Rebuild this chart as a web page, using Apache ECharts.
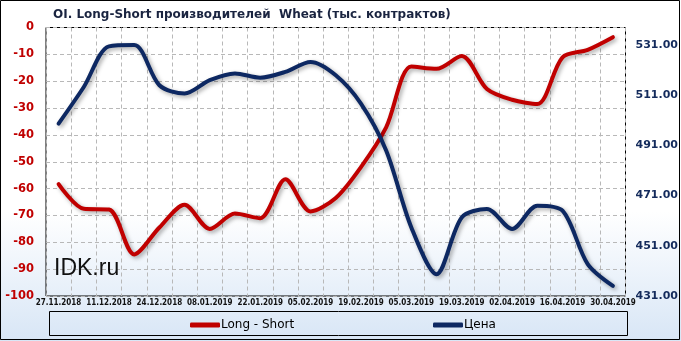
<!DOCTYPE html>
<html>
<head>
<meta charset="utf-8">
<script src="https://cdn.jsdelivr.net/npm/echarts@6/dist/echarts.min.js"></script>
<style>html,body{margin:0;padding:0;background:#fff}#c{width:681px;height:341px}</style>
</head>
<body>
<div id="c"></div>
<script>
var categories = ['27.11.2018','04.12.2018','11.12.2018','18.12.2018','24.12.2018','31.12.2018','08.01.2019','15.01.2019','22.01.2019','29.01.2019','05.02.2019','12.02.2019','19.02.2019','26.02.2019','05.03.2019','12.03.2019','19.03.2019','26.03.2019','02.04.2019','09.04.2019','16.04.2019','23.04.2019','30.04.2019'];
var longShort = [-58.3,-67.5,-67.8,-84.5,-74.5,-66,-75,-69.3,-71,-56.5,-68.5,-63.5,-52,-37.2,-14.5,-15.4,-10.6,-22.9,-26.9,-28.5,-11.1,-8.3,-3.6];
var price = [499.7,514.3,530.5,531,515,511.7,517,519.7,518,520.3,524.3,519,507.7,489,458.3,439.7,462.3,465.7,457.7,467,465,443.7,435];
var leftTicks = {min:-100, max:0, interval:10};
var rightTicks = {min:431, max:538, interval:20};

var chart = echarts.init(document.getElementById('c'));
var shadow = {shadowColor:'rgba(0,0,0,0.35)', shadowBlur:4, shadowOffsetX:2, shadowOffsetY:2};
chart.setOption({
  animation:false,
  title:{text:'OI. Long-Short производителей  Wheat (тыс. контрактов)', left:48, top:4,
    textStyle:{fontFamily:'DejaVu Sans', fontWeight:'bold', fontSize:12, color:'#1a2440'}},
  graphic:[
    {type:'rect', z:-10, silent:true, shape:{x:0,y:0,width:681,height:341},
      style:{fill:{type:'linear',x:0,y:0,x2:0,y2:1,colorStops:[{offset:0,color:'#ffffff'},{offset:0.62,color:'#ffffff'},{offset:1,color:'#d8e6f6'}]}}},
    {type:'rect', z:100, silent:true, shape:{x:0.5,y:0.5,width:679,height:339}, style:{fill:null, stroke:'#000', lineWidth:1}},
    {type:'rect', z:-5, silent:true, shape:{x:49.5,y:311.5,width:578,height:24}, style:{fill:null, stroke:'#000', lineWidth:1}},
    {type:'text', z:50, left:54, top:257, style:{text:'IDK.ru', fill:'#111', font:'23px "Liberation Sans", Arial'}}
  ],
  legend:[
    {data:['Long - Short'], left:185, top:314, itemWidth:30, itemHeight:5, icon:'roundRect', itemGap:0,
      textStyle:{fontFamily:'DejaVu Sans', fontSize:12, color:'#000', padding:[0,0,0,-4]}},
    {data:['Цена'], left:428, top:314, itemWidth:30, itemHeight:5, icon:'roundRect', itemGap:0,
      textStyle:{fontFamily:'DejaVu Sans', fontSize:12, color:'#000', padding:[0,0,0,-4]}}
  ],
  grid:{left:46, right:55.5, top:27.5, bottom:45, show:true, borderColor:'#000', borderWidth:1, backgroundColor:'transparent'},
  xAxis:{type:'category', data:categories, boundaryGap:true,
    axisLine:{show:false}, axisTick:{show:false},
    axisLabel:{interval:1, margin:3, fontFamily:'DejaVu Sans Condensed', fontWeight:'bold', fontSize:8, color:'#111'},
    splitLine:{show:true, interval:0, lineStyle:{color:'#b8b8b8', type:[4,3], width:1}}},
  yAxis:[
    {type:'value', min:leftTicks.min, max:leftTicks.max, interval:leftTicks.interval, position:'left',
      axisLine:{show:false}, axisTick:{show:false},
      axisLabel:{margin:12, fontFamily:'DejaVu Sans', fontWeight:'bold', fontSize:11.5, color:'#c00000'},
      splitLine:{show:true, lineStyle:{color:'#b8b8b8', type:[4,3], width:1}}},
    {type:'value', min:rightTicks.min, max:rightTicks.max, interval:rightTicks.interval, position:'right',
      axisLine:{show:false}, axisTick:{show:false},
      axisLabel:{margin:10, showMaxLabel:false, fontFamily:'DejaVu Sans', fontWeight:'bold', fontSize:11, color:'#142b5c',
        formatter:function(v){return v.toFixed(2);}},
      splitLine:{show:false}}
  ],
  series:[
    {name:'Long - Short', type:'line', data:longShort, yAxisIndex:0, smooth:0.3, symbol:'none',
      color:'#c00000', lineStyle:Object.assign({width:4, color:'#c00000', cap:'round'}, shadow)},
    {name:'Цена', type:'line', data:price, yAxisIndex:1, smooth:0.3, symbol:'none',
      color:'#0d2862', lineStyle:Object.assign({width:4, color:'#0d2862', cap:'round'}, shadow)}
  ]
});
</script>
</body>
</html>
